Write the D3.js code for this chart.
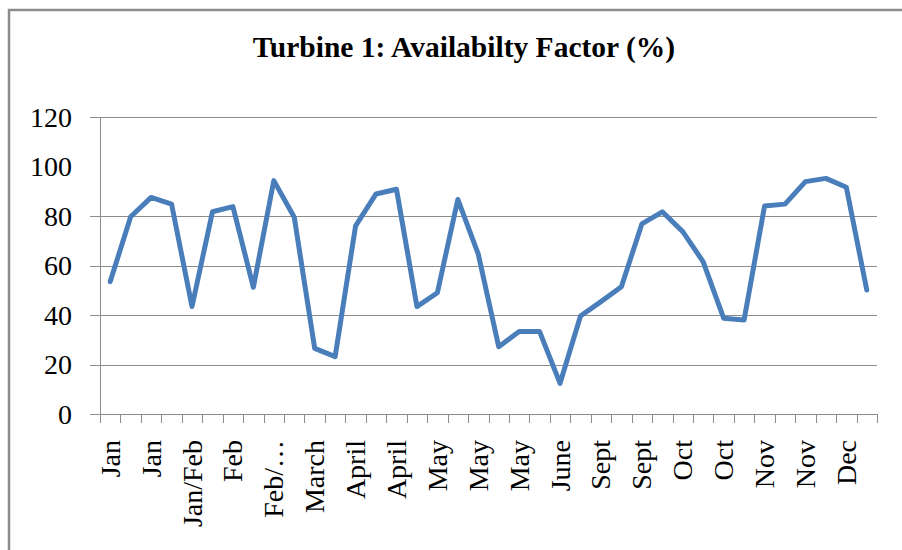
<!DOCTYPE html>
<html>
<head>
<meta charset="utf-8">
<script src="https://cdn.jsdelivr.net/npm/d3@7"></script>
<style>
  body { margin: 0; background: #fff; }
  svg { display: block; font-family: "Liberation Serif", "Times New Roman", serif; }
</style>
</head>
<body>
<div id="chart"></div>
<script>
// 38 readings, every other one labelled on the axis
var categories = ['Jan', 'Jan', 'Jan', 'Jan', 'Jan/Feb', 'Feb', 'Feb', 'Feb', 'Feb/\u2026', 'March',
  'March', 'March', 'April', 'April', 'April', 'April', 'May', 'May', 'May', 'May',
  'May', 'May', 'June', 'June', 'Sept', 'Sept', 'Sept', 'Sept', 'Oct', 'Oct',
  'Oct', 'Oct', 'Nov', 'Nov', 'Nov', 'Nov', 'Dec', 'Dec'];
var availability = [53.5, 79.7, 87.5, 84.8, 43.4, 81.7, 83.8, 51.2, 94.3, 79.5,
  26.5, 23.2, 76, 88.9, 90.8, 43.4, 49, 86.7, 64.6, 27.2,
  33.3, 33.3, 12.4, 39.6, 45.4, 51.4, 76.8, 81.7, 73.7, 61.5,
  38.7, 38, 84, 84.8, 93.9, 95.2, 91.6, 50.1];
var yTicks = [0, 20, 40, 60, 80, 100, 120];
var gridTicks = [0, 20, 40, 60, 80, 120]; // the 100 line doesn't show in the original
var title = 'Turbine 1: Availabilty Factor (%)';

var width = 902, height = 550;
// note: can't call these top/left at global scope (window.top)
var plotL = 100, plotR = 877, plotT = 117, plotB = 414;
var grey = '#8c8c8c';

var svg = d3.select('#chart').append('svg')
  .attr('width', width)
  .attr('height', height);

// chart frame (only top + left edges fall inside the picture)
svg.append('rect')
  .attr('x', 9).attr('y', 10)
  .attr('width', 1000).attr('height', 1000)
  .attr('fill', '#fff')
  .attr('stroke', grey)
  .attr('stroke-width', 2.5);

var x = d3.scaleBand()
  .domain(d3.range(categories.length))
  .range([plotL, plotR]);

var y = d3.scaleLinear()
  .domain([0, 120])
  .range([plotB, plotT]);

svg.append('text')
  .attr('x', 464).attr('y', 57)
  .attr('text-anchor', 'middle')
  .attr('font-size', 29.5)
  .attr('font-weight', 'bold')
  .text(title);

// gridlines + y ticks
svg.selectAll('.grid').data(gridTicks)
  .enter().append('line')
  .attr('class', 'grid')
  .attr('x1', plotL - 10).attr('x2', plotR)
  .attr('y1', function (d) { return Math.round(y(d)) + 0.5; })
  .attr('y2', function (d) { return Math.round(y(d)) + 0.5; })
  .attr('stroke', grey)
  .attr('stroke-width', 1);

svg.selectAll('.ylab').data(yTicks)
  .enter().append('text')
  .attr('class', 'ylab')
  .attr('x', 72)
  .attr('y', function (d) { return y(d); })
  .attr('dy', '0.34em')
  .attr('text-anchor', 'end')
  .attr('font-size', 28)
  .text(function (d) { return d; });

// y axis line
svg.append('line')
  .attr('x1', plotL + 0.5).attr('x2', plotL + 0.5)
  .attr('y1', plotT).attr('y2', plotB)
  .attr('stroke', grey);

// x axis ticks sit on category boundaries
var bounds = d3.range(categories.length + 1).map(function (i) {
  return i < categories.length ? x(i) : x(i - 1) + x.bandwidth();
});
svg.selectAll('.xtick').data(bounds)
  .enter().append('line')
  .attr('class', 'xtick')
  .attr('x1', function (d) { return Math.round(d) + 0.5; })
  .attr('x2', function (d) { return Math.round(d) + 0.5; })
  .attr('y1', plotB).attr('y2', plotB + 9)
  .attr('stroke', grey);

svg.selectAll('.xlab').data(d3.range(0, categories.length, 2))
  .enter().append('text')
  .attr('class', 'xlab')
  .attr('transform', function (i) {
    return 'translate(' + (x(i) + x.bandwidth() / 2) + ',' + 440 + ') rotate(-90)';
  })
  .attr('dy', '0.34em')
  .attr('text-anchor', 'end')
  .attr('font-size', 28)
  .text(function (i) { return categories[i]; });

var line = d3.line()
  .x(function (d, i) { return x(i) + x.bandwidth() / 2; })
  .y(function (d) { return y(d); });

svg.append('path')
  .datum(availability)
  .attr('d', line)
  .attr('fill', 'none')
  .attr('stroke', '#4a7ebb')
  .attr('stroke-width', 5)
  .attr('stroke-linejoin', 'round')
  .attr('stroke-linecap', 'round');
</script>
</body>
</html>
